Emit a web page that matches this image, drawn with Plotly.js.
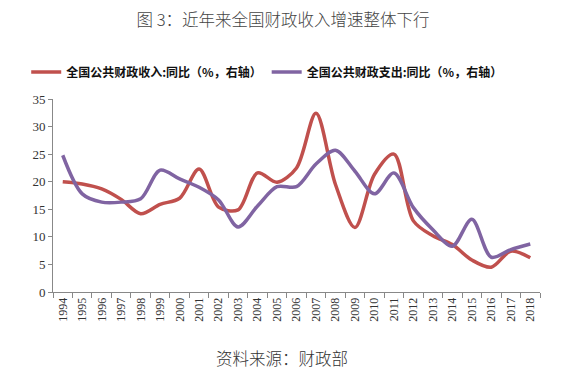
<!DOCTYPE html>
<html><head><meta charset="utf-8">
<script src="https://cdn.plot.ly/plotly-3.0.1.min.js"></script>
<style>html,body{margin:0;padding:0;background:#fff;}#chart{width:566px;height:378px;}</style>
</head><body><div id="chart"></div>
<script>
var years = ["1994","1995","1996","1997","1998","1999","2000","2001","2002","2003","2004","2005","2006","2007","2008","2009","2010","2011","2012","2013","2014","2015","2016","2017","2018"];
var revenue = [20.0,19.6,18.7,16.8,14.2,15.9,17.0,22.3,15.4,14.9,21.6,19.9,22.5,32.4,19.5,11.7,21.3,25.0,12.9,10.2,8.6,5.8,4.5,7.4,6.2];
var expenditure = [24.8,17.8,16.3,16.3,16.9,22.1,20.5,19.0,16.7,11.8,15.6,19.1,19.1,23.2,25.7,21.9,17.8,21.6,15.3,11.3,8.3,13.2,6.3,7.7,8.7];
var yTicks = [0,5,10,15,20,25,30,35];
var titleText = "图 3：近年来全国财政收入增速整体下行";
var sourceText = "资料来源：财政部";
var revName = "全国公共财政收入:同比（%，右轴）";
var expName = "全国公共财政支出:同比（%，右轴）";

var cjk = "Noto Sans CJK SC, sans-serif";
var serif = "Liberation Serif, Times New Roman, serif";

var traces = [
  {x: years, y: revenue, name: revName, type: "scatter", mode: "lines",
   line: {color: "#c0504d", width: 3.5, shape: "spline", smoothing: 0.9}},
  {x: years, y: expenditure, name: expName, type: "scatter", mode: "lines",
   line: {color: "#8064a2", width: 3.5, shape: "spline", smoothing: 0.9}}
];

var layout = {
  width: 566, height: 378,
  margin: {l: 53, r: 26, t: 99, b: 86},
  paper_bgcolor: "#fff", plot_bgcolor: "#fff",
  showlegend: true,
  title: {text: titleText, x: 0.5, xanchor: "center", y: 0.947, yanchor: "middle",
          font: {family: cjk, size: 16.5, color: "#444", weight: 300}},
  legend: {orientation: "h", x: -0.055, xanchor: "left", y: 1.14, yanchor: "middle",
           font: {family: cjk, size: 12, color: "#111", weight: "bold"},
           itemwidth: 30, tracegroupgap: 0, bgcolor: "rgba(0,0,0,0)"},
  xaxis: {type: "category", range: [-0.5, 24.5], showline: true, linecolor: "#888", linewidth: 1,
          ticks: "outside", tickson: "boundaries", ticklen: 5, tickcolor: "#888",
          tickangle: -90, tickfont: {family: serif, size: 12, color: "#333"},
          showgrid: false, zeroline: false, fixedrange: true},
  yaxis: {range: [0, 35], tickvals: yTicks, showline: true, linecolor: "#888", linewidth: 1,
          ticks: "outside", ticklen: 4, tickcolor: "#888",
          tickfont: {family: serif, size: 13, color: "#333"},
          showgrid: false, zeroline: false, fixedrange: true},
  annotations: [
    {text: sourceText, xref: "paper", yref: "paper", x: 0.47, y: -0.342,
     xanchor: "center", yanchor: "middle", showarrow: false,
     font: {family: cjk, size: 16.5, color: "#333", weight: 300}}
  ]
};

Plotly.newPlot("chart", traces, layout, {displayModeBar: false, staticPlot: true});
</script></body></html>
